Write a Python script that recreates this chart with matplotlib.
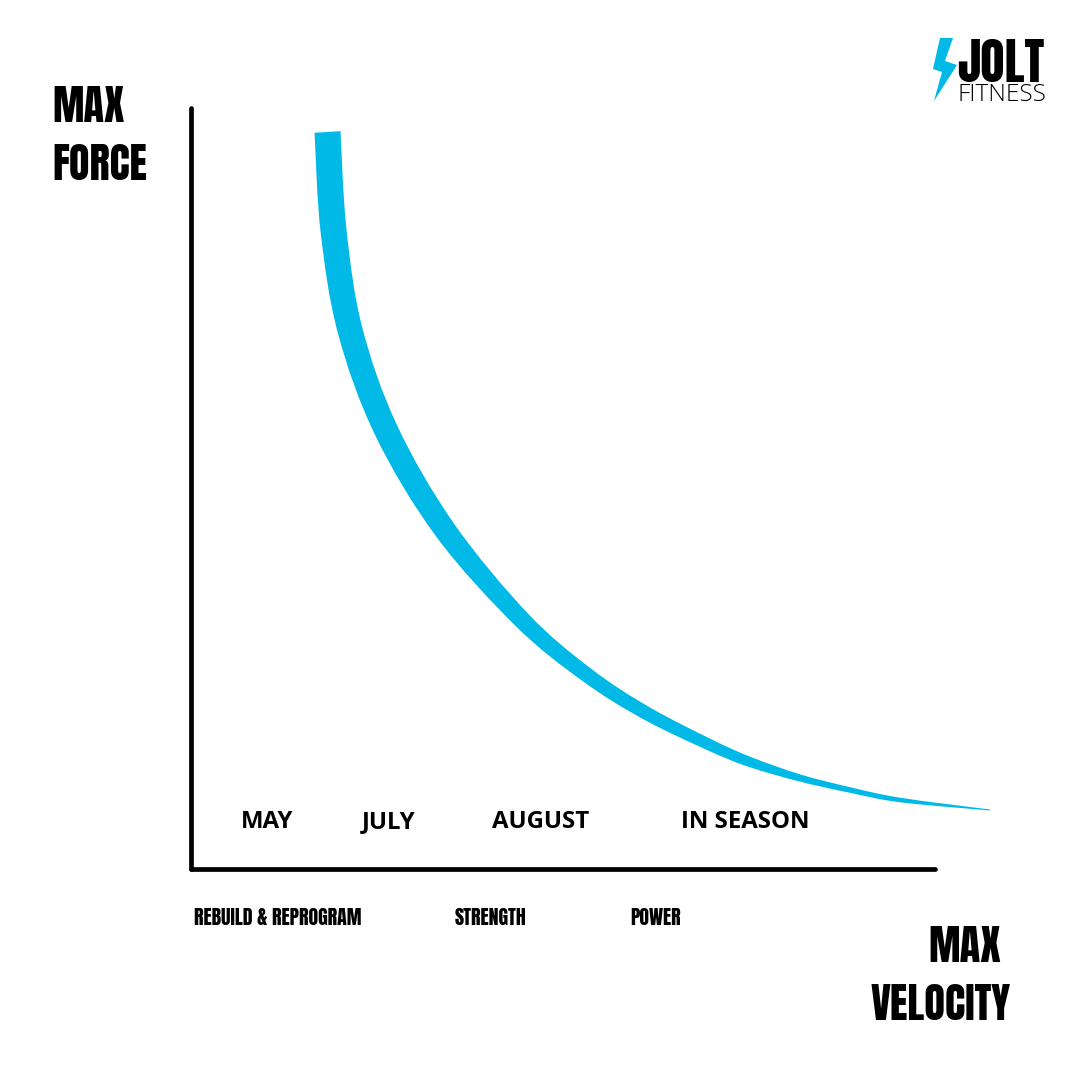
import matplotlib
matplotlib.use("Agg")
import numpy as np
import matplotlib.pyplot as plt
from matplotlib.patches import Polygon, PathPatch
from matplotlib.path import Path

# ---------------- data ----------------
# force-velocity curve (velocity %, force %)
velocity = [18.35, 19.15, 21.37, 26.21, 34.14, 44.49, 53.23, 61.16, 69.76,
            75.13, 81.85, 88.58, 95.30, 107.39]
force = [96.85, 83.97, 70.83, 57.69, 44.55, 32.72, 25.49, 20.50, 16.29,
         14.06, 11.96, 10.38, 9.07, 7.75]

months = ["MAY", "JULY", "AUGUST", "IN SEASON"]
phases = ["REBUILD & REPROGRAM", "STRENGTH", "POWER"]

# ---------------- style / layout ----------------
BLUE = "#00B9E6"
W, H = 1080, 1080
# band thickness (pixels) along the curve
thickness = [26, 26, 25, 24, 22, 17.5, 15, 13.5, 11.5, 10, 7, 5.5, 4.5, 1]
month_x = [241, 362, 492, 681]
phase_x = [194, 455, 630]


def fx(px):
    return px / W


def fy(py):
    return 1 - py / H


def bezier_through(p):
    """Cubic Bezier control points for a smooth path through points p."""
    ext = np.vstack([p[0], p, p[-1]])
    verts = [p[0]]
    for i in range(1, len(ext) - 2):
        p0, p1, p2, p3 = ext[i - 1], ext[i], ext[i + 1], ext[i + 2]
        verts += [p1 + (p2 - p0) / 6, p2 - (p3 - p1) / 6, p2]
    return np.array(verts)


fig = plt.figure(figsize=(10.8, 10.8), dpi=100)
fig.patch.set_facecolor("white")

ax_l, ax_r, ax_t, ax_b = 191, 935, 108, 869
ax = fig.add_axes([fx(ax_l), fy(ax_b), (ax_r - ax_l) / W, (ax_b - ax_t) / H])
ax.set_xlim(0, 100)
ax.set_ylim(0, 100)
ax.set_xticks([])
ax.set_yticks([])
ax.set_facecolor("none")
for s in ["top", "right"]:
    ax.spines[s].set_visible(False)
for s in ["left", "bottom"]:
    ax.spines[s].set_linewidth(3.4)
    ax.spines[s].set_color("black")
    ax.spines[s].set_capstyle("round")

# tapered band: offset the centre line in display space, then back to data
pts = ax.transData.transform(np.column_stack([velocity, force]))
d = np.gradient(pts, axis=0)
d /= np.linalg.norm(d, axis=1)[:, None]
nrm = np.column_stack([-d[:, 1], d[:, 0]])
half = (np.array(thickness) / 2)[:, None]
side_a = bezier_through(pts + nrm * half)
side_b = bezier_through((pts - nrm * half)[::-1])
verts = np.vstack([side_a, side_b, side_a[:1]])
codes = ([Path.MOVETO] + [Path.CURVE4] * (len(side_a) - 1)
         + [Path.LINETO] + [Path.CURVE4] * (len(side_b) - 1)
         + [Path.CLOSEPOLY])
verts_data = ax.transData.inverted().transform(verts)
ax.add_patch(PathPatch(Path(verts_data, codes), facecolor=BLUE,
                       edgecolor="none", clip_on=False, zorder=3))

# month labels
for lab, x in zip(months, month_x):
    fig.text(fx(x), fy(828), lab, family="Open Sans", fontweight="bold",
             fontsize=17.3, ha="left", va="baseline", color="black")

# phase labels
for lab, x in zip(phases, phase_x):
    fig.text(fx(x), fy(925), lab, family="Anton", fontsize=14.2,
             ha="left", va="baseline", color="black")

# axis titles
fig.text(fx(52), fy(122), "MAX", family="Anton", fontsize=30.3, ha="left",
         va="baseline", color="black")
fig.text(fx(52), fy(180), "FORCE", family="Anton", fontsize=30.3, ha="left",
         va="baseline", color="black")
fig.text(fx(1001), fy(962), "MAX", family="Anton", fontsize=30.5, ha="right",
         va="baseline", color="black")
fig.text(fx(1011), fy(1020), "VELOCITY", family="Anton", fontsize=30.5,
         ha="right", va="baseline", color="black")

# logo
bolt_px = [(940, 38), (953, 38), (945, 61), (957, 65), (934, 101),
           (942, 72), (933, 69)]
fig.add_artist(Polygon([(fx(x), fy(y)) for x, y in bolt_px], closed=True,
                       transform=fig.transFigure, facecolor=BLUE,
                       edgecolor="none"))
fig.text(fx(957), fy(82), "JOLT", family="Anton", fontsize=36, ha="left",
         va="baseline", color="black")
fig.text(fx(957), fy(101), "FITNESS", family="Open Sans", fontweight="light",
         fontsize=17.6, ha="left", va="baseline", color="black")

fig.savefig("out.png", dpi=100, facecolor="white")
